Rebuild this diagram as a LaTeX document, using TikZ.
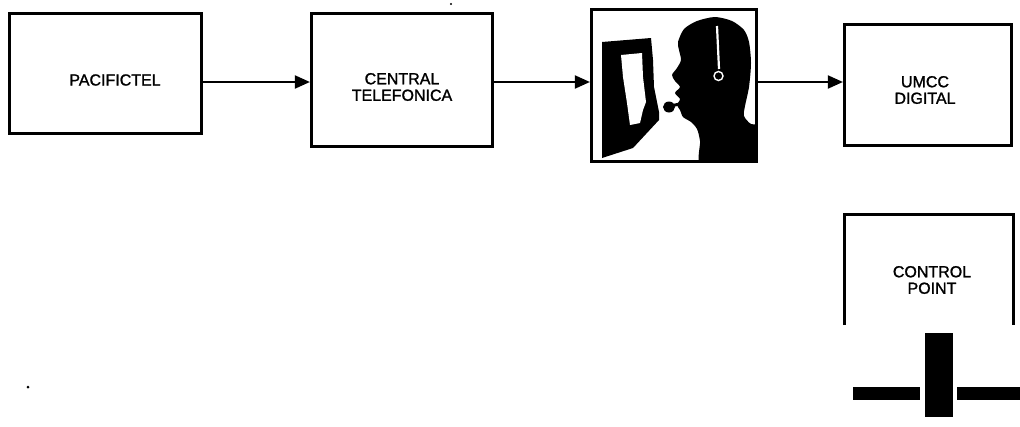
\documentclass[tikz,border=0pt]{standalone}
\usepackage{fontspec}
\setmainfont{Liberation Sans}
\newfontfamily\labelfont[FakeBold=1.3]{Liberation Sans}
\usetikzlibrary{arrows.meta}
\begin{document}
\begin{tikzpicture}[x=1pt,y=-1pt,
  block/.style={draw=black,line width=3.2pt,inner sep=0pt,fill=white},
  lbl/.style={align=center,inner sep=0pt,font=\labelfont\fontsize{16}{16.5}\selectfont},
  arr/.style={line width=2pt,-{Triangle[length=15pt,width=13pt]}},
  ink/.style={fill=black,draw=none}]
\useasboundingbox[fill=white] (0,0) rectangle (1020,426);

% blocks of the chain
\node[block,minimum width=192pt,minimum height=120pt] (b1) at (105.5,73.5) {};
\node[block,minimum width=181pt,minimum height=133pt] (b2) at (402,80) {};
\node[block,minimum width=165pt,minimum height=152pt] (op) at (674,85.5) {};
\node[block,minimum width=167pt,minimum height=121pt] (b4) at (928,85) {};
\node[inner sep=0pt,outer sep=0pt,minimum width=169pt,minimum height=110.5pt] (b5) at (929,269.75) {};
\draw[line width=3.2pt] (b5.south west) -- (b5.north west) -- (b5.north east) -- (b5.south east);

% labels
\node[lbl] (t1) at (115,80) {PACIFICTEL};
\node[lbl] (t2) at (402,87) {CENTRAL\\TELEFONICA};
\node[lbl] (t4) at (925,90) {UMCC\\DIGITAL};
\node[lbl] (t5) at (932,280) {CONTROL\\POINT};

% signal flow
\coordinate (ay) at (0,82);
\draw[arr] (b1.east |- ay) -- (b2.west |- ay);
\draw[arr] (b2.east |- ay) -- (op.west |- ay);
\draw[arr] (op.east |- ay) -- (b4.west |- ay);

% operator with headset in front of a monitor
\begin{scope}
  \clip (591.5,9.5) rectangle (756.5,161.5);
  % monitor
  \fill[ink] (602,42) -- (651,38) -- (653,60) -- (654,87) -- (659,112) -- (659,120)
    -- (633,148) -- (602,158) -- cycle;
  \fill[white] (621,55) -- (642,53) -- (643,77) -- (646,102) -- (643,110) -- (640,123)
    -- (630,125) -- (627,103) -- (623,77) -- cycle;
  % head and shoulders
  \fill[ink] plot[smooth cycle,tension=0.45] coordinates {
    (678,42) (684,29) (697,21) (715,17) (732,21) (744,30) (749,42) (751,63)
    (749,87) (745,106) (744,116) (751,124) (765,128) (768,170) (703,170)
    (700,141) (697,129) (691,122) (683,117) (680,110) (677,105) (680,99)
    (675,93) (680,87) (675,81) (672,75) (677,68) (681,60) (679,50)};
  % headset band and earpiece
  \draw[white,line width=2.2pt] (717,26) -- (719,69);
  \draw[white,line width=1.4pt] (718.5,76) circle (4.5);
  % microphone
  \fill[ink] (669,107) ellipse (6 and 5.5);
  \draw[line width=3pt] (670,106) -- (680,104);
\end{scope}

% terminal symbol
\fill[ink] (925,333) rectangle (953,417);
\fill[ink] (853,387) rectangle (920,400);
\fill[ink] (957,387) rectangle (1020,400);

% specks
\fill[ink] (451,4) circle (1.2);
\fill[ink] (28,387) circle (1.5);
\end{tikzpicture}
\end{document}
